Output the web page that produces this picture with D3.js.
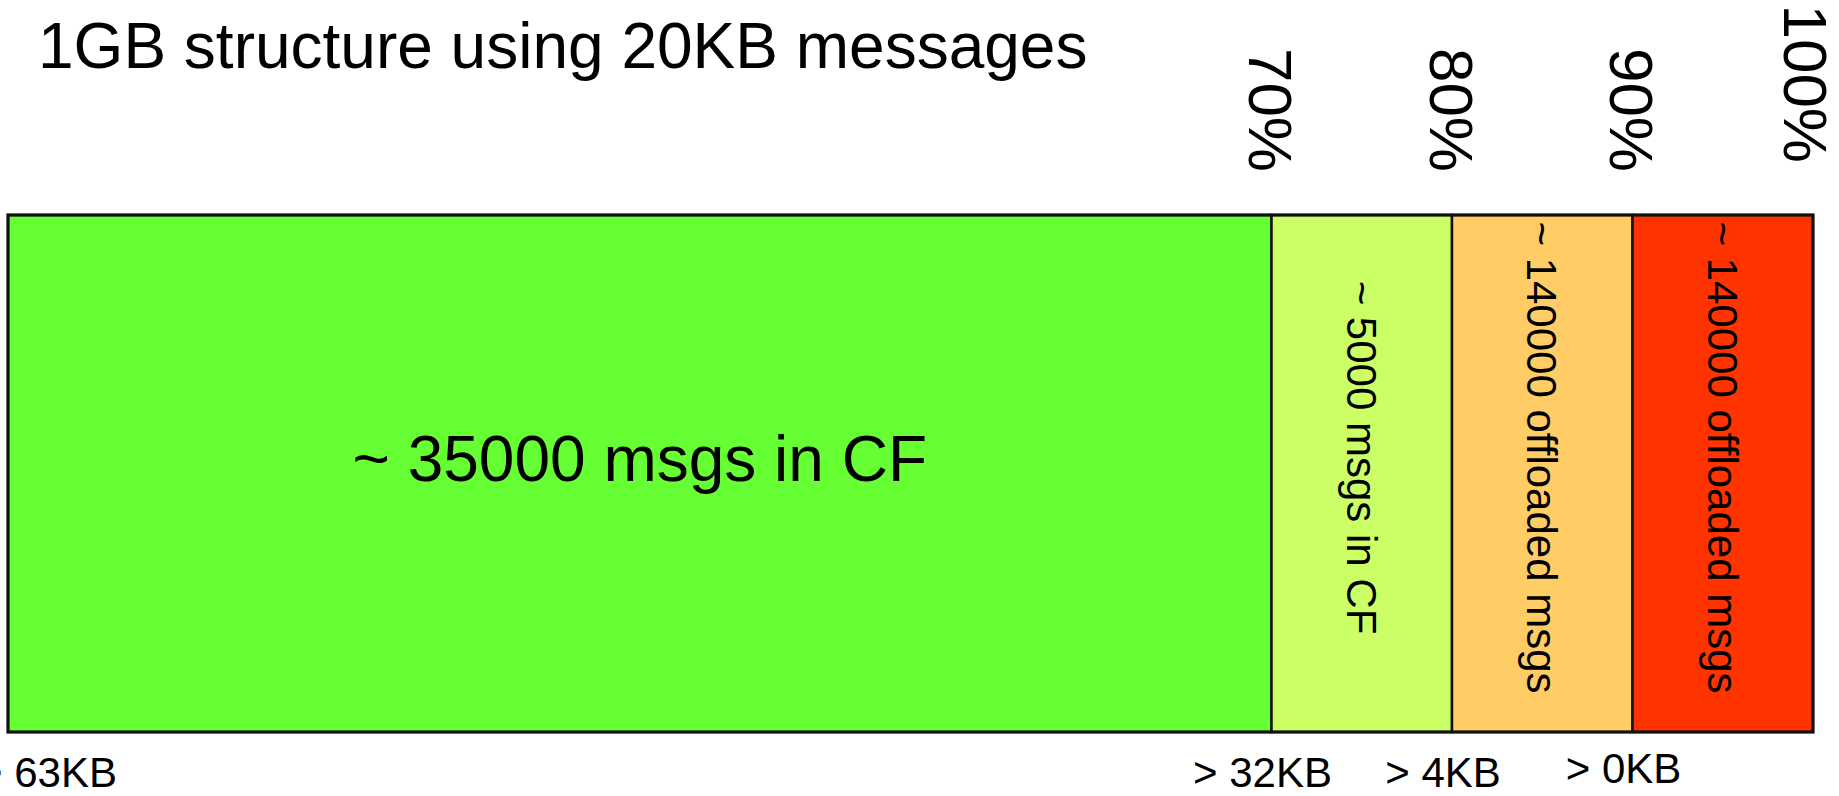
<!DOCTYPE html>
<html>
<head>
<meta charset="utf-8">
<script src="https://cdn.jsdelivr.net/npm/d3@7/dist/d3.min.js"></script>
<style>
  html, body { margin: 0; padding: 0; background: #fff; }
  svg { display: block; }
  text { font-family: "Liberation Sans", Arial, Helvetica, sans-serif; fill: #000; }
</style>
</head>
<body>
<svg id="chart" width="1839" height="796"></svg>
<script>
// Share of the 1GB structure taken by each message group (percent)
const groups = ["~ 35000 msgs in CF", "~ 5000 msgs in CF", "~ 140000 offloaded msgs", "~ 140000 offloaded msgs"];
const shares = [70, 10, 10, 10];
const fills = ["#66ff33", "#ccff66", "#ffcc66", "#ff3300"];

// Fill-level ticks above the bar
const levelTicks = [70, 80, 90, 100];
const levelLabels = ["70%", "80%", "90%", "100%"];

// Message-size thresholds under the bar, at the start of each group
const sizeTicks = [0, 70, 80, 90];
const sizeLabels = ["> 63KB", "> 32KB", "> 4KB", "> 0KB"];

const title = "1GB structure using 20KB messages";

const W = 1839, H = 796;
const bar = { left: 8, right: 1813, top: 215, bottom: 732 };
const labelLift = 16;   // segment labels sit a little above the bar's middle

const svg = d3.select("#chart");

const x = d3.scaleLinear().domain([0, 100]).range([bar.left, bar.right]);
const y = d3.scaleBand().domain(["structure"]).range([bar.top, bar.bottom]).padding(0);
const color = d3.scaleOrdinal().domain(d3.range(groups.length)).range(fills);

const ends = Array.from(d3.cumsum(shares));
const segs = groups.map((g, i) => ({
  label: g, i,
  x0: ends[i] - shares[i],
  x1: ends[i]
}));

// title
svg.append("text")
  .attr("x", 38)
  .attr("y", 68)
  .attr("font-size", 64)
  .text(title);

const yTop = y("structure");
const yMid = yTop + y.bandwidth() / 2 - labelLift;

// segments
svg.append("g").selectAll("rect")
  .data(segs)
  .join("rect")
  .attr("x", d => x(d.x0))
  .attr("y", yTop)
  .attr("width", d => x(d.x1) - x(d.x0))
  .attr("height", y.bandwidth())
  .attr("fill", d => color(d.i))
  .attr("stroke", "#111")
  .attr("stroke-width", 2.5);

// outer frame
svg.append("rect")
  .attr("x", x(0))
  .attr("y", yTop)
  .attr("width", x(100) - x(0))
  .attr("height", y.bandwidth())
  .attr("fill", "none")
  .attr("stroke", "#111")
  .attr("stroke-width", 3);

// segment labels: first one horizontal, the narrow ones vertical
svg.append("g").selectAll("text")
  .data(segs)
  .join("text")
  .attr("text-anchor", "middle")
  .attr("dy", "0.36em")
  .attr("font-size", d => d.i === 0 ? 64 : 42)
  .attr("transform", d => {
    const cx = x((d.x0 + d.x1) / 2);
    return d.i === 0 ? `translate(${cx},${yMid})` : `translate(${cx},${yMid}) rotate(90)`;
  })
  .text(d => d.label);

// percent level labels above the bar, rotated; kept inside the right edge
svg.append("g").selectAll("text")
  .data(levelTicks)
  .join("text")
  .attr("text-anchor", "end")
  .attr("dy", "0.36em")
  .attr("font-size", 62)
  .attr("transform", d => `translate(${Math.min(x(d), W - 33)},${d === 100 ? 163 : 172}) rotate(90)`)
  .text((d, i) => levelLabels[i]);

// size thresholds below the bar
svg.append("g").selectAll("text")
  .data(sizeTicks)
  .join("text")
  .attr("font-size", 42)
  .attr("text-anchor", (d, i) => i === 0 ? "start" : "middle")
  .attr("x", (d, i) => i === 0 ? x(d) - 30 : x(d) - 9)
  .attr("y", (d, i) => i === sizeTicks.length - 1 ? 783 : 787)
  .text((d, i) => sizeLabels[i]);
</script>
</body>
</html>
